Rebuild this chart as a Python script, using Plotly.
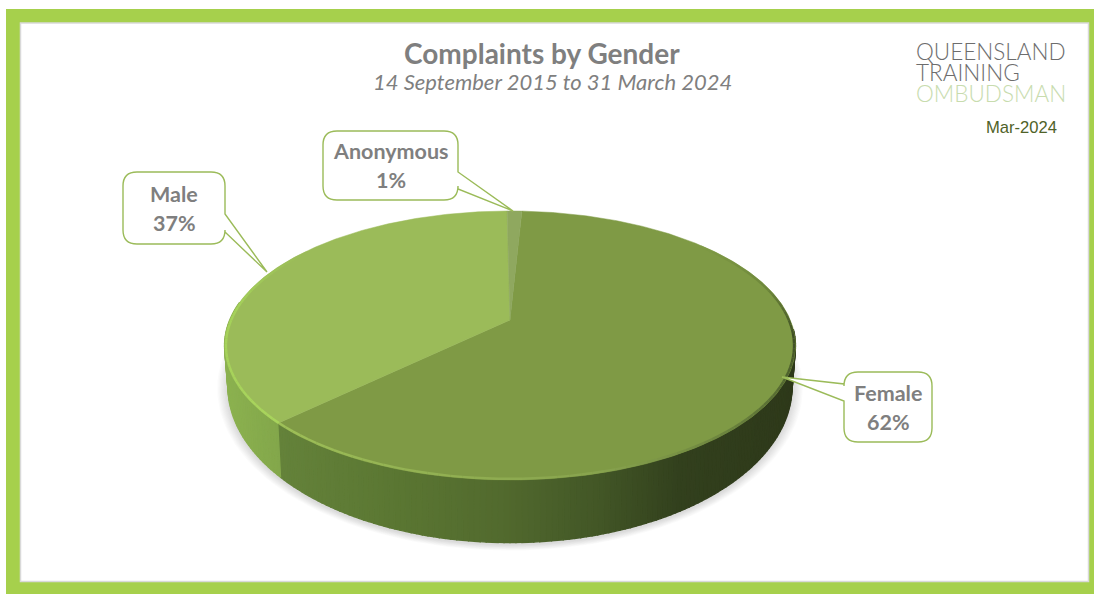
import numpy as np
import plotly.graph_objects as go

# ---- data ----
categories = ["Female", "Male", "Anonymous"]
values = [62, 37, 1]
slice_colors = ["#7f9a45", "#9bbb59", "#8fa85f"]
title_text = "Complaints by Gender"
subtitle_text = "14 September 2015 to 31 March 2024"
stamp_text = "Mar-2024"
logo_lines = ["QUEENSLAND", "TRAINING", "OMBUDSMAN"]

# ---- scene geometry (pixel-space axes) ----
W, H = 1094, 594
CX, APEX_Y = 510, 320
A, C, R = -69.0, 0.1896, 280.3
START_DEG = 2.9
GREY = "#7f7f7f"
FRAME = "#a6d04c"
EDGE = "#9bbb59"


def top(theta):
    t = np.radians(theta)
    u, v = np.sin(t), np.cos(t)
    w = 1 + C * v
    return CX + R * u / w, (A * v + APEX_Y) / w


def bottom(theta):
    x, y = top(theta)
    return CX + (x - CX) * 0.988, y + 41 + 0.16 * (y - 345)


def lerp_stops(x, stops):
    xs = [s[0] for s in stops]
    return tuple(np.interp(x, xs, [s[1][i] for s in stops]) for i in range(3))


female_side = [(280, (100, 130, 58)), (400, (90, 118, 50)), (500, (82, 106, 46)),
               (600, (66, 86, 38)), (680, (50, 64, 29)), (795, (46, 57, 26))]
male_side = [(222, (140, 178, 80)), (282, (130, 166, 74))]

fig = go.Figure()


def poly(xs, ys, color, line=0.0):
    fig.add_trace(go.Scatter(
        x=list(xs), y=list(ys), mode="lines", fill="toself", fillcolor=color,
        line=dict(color=color, width=line), hoverinfo="skip", showlegend=False))


# slice boundaries from the values
edges = START_DEG + np.cumsum([0] + values) * 360 / sum(values)

# soft shadow under the disc
th = np.linspace(0, 360, 181)
bx, by = bottom(th)
for k in range(9, 0, -1):
    s = 1 + k * 0.0042
    poly(CX + (bx - CX) * s, 388 + (by - 386) * s, "rgba(90,90,90,0.022)")

# side wall: narrow strips, shaded from the slice they belong to
for t0 in np.arange(94, 278, 1.0):
    t1 = t0 + 1.0
    mid = (t0 + t1) / 2
    x0, y0 = top(t0)
    x1, y1 = top(t1)
    x2, y2 = bottom(t1)
    x3, y3 = bottom(t0)
    xm = (x0 + x1) / 2
    stops = female_side if mid < edges[1] else male_side
    r, g, b = lerp_stops(xm, stops)
    poly([x0, x1, x2, x3, x0], [y0, y1, y2, y3, y0], f"rgb({r:.0f},{g:.0f},{b:.0f})", 1.3)

# top faces
for i in range(len(values)):
    th = np.linspace(edges[i], edges[i + 1], max(3, int(edges[i + 1] - edges[i]) * 2))
    x, y = top(th)
    poly(np.r_[CX, x, CX], np.r_[APEX_Y, y, APEX_Y], slice_colors[i], 0.5)

# rim: fades from the face colour into dark on the right, pale towards the front and left
rim_stops = [(50, (127, 154, 69)), (75, (110, 135, 60)), (97, (62, 78, 36)), (125, (92, 114, 54)),
             (165, (136, 163, 78)), (225, (158, 192, 88)), (227, (168, 212, 92)),
             (275, (165, 210, 90)), (305, (155, 187, 89))]
for t0 in np.arange(50, 305, 2.0):
    th = np.array([t0, t0 + 2.0])
    x, y = top(th)
    r, g, b = lerp_stops(t0 + 1, rim_stops)
    fig.add_trace(go.Scatter(
        x=CX + (x - CX) * 0.995, y=345 + (y - 345) * 0.991, mode="lines", hoverinfo="skip",
        showlegend=False, line=dict(color=f"rgb({r:.0f},{g:.0f},{b:.0f})", width=2.4)))


def callout(x0, y0, x1, y1, tip, base, side):
    """Rounded box with a pointer leaving through one side."""
    rr = 14
    if side == "right":
        mid = f"L{x1},{base[0]} L{tip[0]},{tip[1]} L{x1},{base[1]} "
        return (f"M{x0 + rr},{y0} L{x1 - rr},{y0} Q{x1},{y0} {x1},{y0 + rr} {mid}"
                f"L{x1},{y1 - rr} Q{x1},{y1} {x1 - rr},{y1} L{x0 + rr},{y1} Q{x0},{y1} {x0},{y1 - rr} "
                f"L{x0},{y0 + rr} Q{x0},{y0} {x0 + rr},{y0} Z")
    mid = f"L{x0},{base[1]} L{tip[0]},{tip[1]} L{x0},{base[0]} "
    return (f"M{x0 + rr},{y0} L{x1 - rr},{y0} Q{x1},{y0} {x1},{y0 + rr} L{x1},{y1 - rr} "
            f"Q{x1},{y1} {x1 - rr},{y1} L{x0 + rr},{y1} Q{x0},{y1} {x0},{y1 - rr} {mid}"
            f"L{x0},{y0 + rr} Q{x0},{y0} {x0 + rr},{y0} Z")


boxes = {
    "Female": (844, 372, 932, 442, (782, 377), (384, 401), "left"),
    "Male": (123, 172, 225, 244, (267, 272), (214, 232), "right"),
    "Anonymous": (323, 131, 458, 200, (513, 211), (172, 189), "right"),
}

shapes = [
    dict(type="rect", xref="x", yref="y", x0=6, y0=9, x1=1094, y1=594,
         fillcolor=FRAME, line_width=0, layer="below"),
    dict(type="rect", xref="x", yref="y", x0=20.5, y0=23, x1=1088.5, y1=581.5,
         fillcolor="#ffffff", line=dict(color="#d9d9d9", width=1.5), layer="below"),
]
annotations = []


def label(x, y, text, size, color, weight="normal", style="normal", family="Lato", anchor="center"):
    annotations.append(dict(
        x=x, y=y, xref="x", yref="y", text=text, showarrow=False, xanchor=anchor, yanchor="middle",
        font=dict(family=family, size=size, color=color, weight=weight, style=style)))


for name, v in zip(categories, values):
    x0, y0, x1, y1, tip, base, side = boxes[name]
    shapes.append(dict(type="path", xref="x", yref="y", path=callout(x0, y0, x1, y1, tip, base, side),
                       fillcolor="#ffffff", line=dict(color=EDGE, width=1.4), layer="above"))
    label((x0 + x1) / 2, (y0 + y1) / 2 - 14.5, name, 21.5, GREY, weight="bold")
    label((x0 + x1) / 2, (y0 + y1) / 2 + 14.5, f"{v}%", 21.5, GREY, weight="bold")

label(541.5, 53, title_text, 28, GREY, weight="bold")
label(552.5, 81, subtitle_text, 22, GREY, style="italic")
label(1021, 127, stamp_text, 16.6, "#4f6228", family="Liberation Sans")
for line, y, col in zip(logo_lines, [51, 72, 93], ["#6d6d6d", "#6d6d6d", "#c8dcae"]):
    label(914, y, line, 22.5, col, weight=300, family="Lato", anchor="left")

fig.update_layout(
    width=W, height=H, autosize=False,
    margin=dict(l=0, r=0, t=0, b=0),
    paper_bgcolor="#ffffff", plot_bgcolor="#ffffff",
    xaxis=dict(range=[0, W], visible=False, fixedrange=True),
    yaxis=dict(range=[H, 0], visible=False, fixedrange=True),
    shapes=shapes, annotations=annotations, showlegend=False,
)

fig.write_html(
    "out.html",
    config={"displayModeBar": False},
    post_script="document.body.style.margin='0';document.body.style.overflow='hidden';",
)
